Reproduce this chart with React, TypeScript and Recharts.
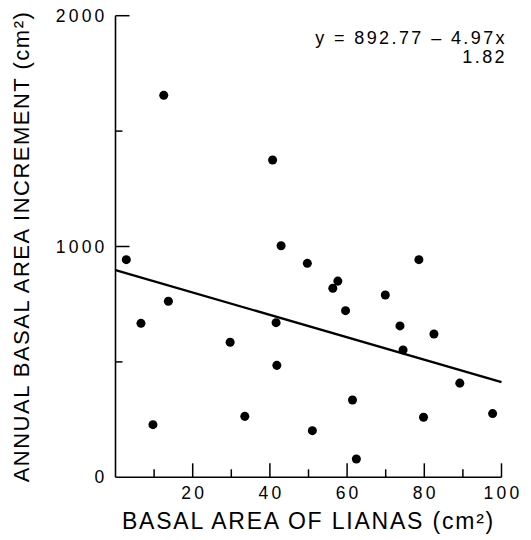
import React from 'react';
import { ScatterChart, Scatter, XAxis, YAxis, ZAxis, Label } from 'recharts';

// basal area of lianas (cm²) on each tree
const lianaArea = [
  12.5, 40.7, 42.9, 2.8, 49.7, 78.6, 57.6, 56.3, 69.9, 13.7, 59.6, 6.6, 41.6,
  73.7, 82.5, 29.7, 74.5, 41.8, 89.2, 61.4, 33.5, 79.8, 97.7, 9.7, 51.0, 62.4,
];
// annual basal area increment (cm²)
const increment = [
  1655, 1375, 1003, 943, 927, 943, 850, 819, 790, 763, 722, 667, 670,
  656, 621, 585, 552, 485, 408, 335, 264, 260, 276, 228, 202, 79,
];

// fitted line as drawn
const fitX = [0, 100];
const fitY = [898, 412];

const xTicks = [10, 20, 30, 40, 50, 60, 70, 80, 90, 100];
const yTicks = [0, 500, 1000, 1500, 2000];

const points = lianaArea.map((x, i) => ({ x, y: increment[i] }));
const fitPoints = fitX.map((x, i) => ({ x, y: fitY[i] }));

const FONT = '"Liberation Sans", Arial, sans-serif';

const YTick = (props: any) => {
  const { x, y, payload } = props;
  const major = payload.value % 1000 === 0;
  return (
    <g>
      {payload.value !== 0 && (
        <line x1={x} x2={x + (major ? 14 : 7)} y1={y} y2={y} stroke="#000" strokeWidth={1.5} />
      )}
      {major && (
        <text
          x={x - 8}
          y={y + 6}
          textAnchor="end"
          fontFamily={FONT}
          fontSize={17.5}
          letterSpacing={3.2}
          fill="#000"
        >
          {payload.value}
        </text>
      )}
    </g>
  );
};

const XTick = (props: any) => {
  const { x, y, payload } = props;
  const major = payload.value % 20 === 0;
  return (
    <g>
      <line x1={x} x2={x} y1={y} y2={y - (major ? 14 : 8)} stroke="#000" strokeWidth={1.5} />
      {major && (
        <text
          x={x + 1.5}
          y={y + 22}
          textAnchor="middle"
          fontFamily={FONT}
          fontSize={17.5}
          letterSpacing={3.2}
          fill="#000"
        >
          {payload.value}
        </text>
      )}
    </g>
  );
};

const YLabel = (props: any) => {
  const { viewBox } = props;
  const cx = viewBox.x + 21;
  const cy = viewBox.y + viewBox.height / 2;
  return (
    <text
      x={cx}
      y={cy}
      transform={`rotate(-90, ${cx}, ${cy})`}
      textAnchor="middle"
      dominantBaseline="central"
      fontFamily={FONT}
      fontSize={22}
      letterSpacing={1.5}
      fill="#000"
    >
      ANNUAL BASAL AREA INCREMENT (cm²)
    </text>
  );
};

const XLabel = (props: any) => {
  const { viewBox } = props;
  const cx = viewBox.x + viewBox.width / 2;
  return (
    <text
      x={cx}
      y={viewBox.y + 52}
      textAnchor="middle"
      fontFamily={FONT}
      fontSize={23}
      letterSpacing={1.8}
      fill="#000"
    >
      BASAL AREA OF LIANAS (cm²)
    </text>
  );
};

export default function App() {
  return (
    <div style={{ position: 'absolute', left: 0, top: 0, width: 531, height: 540, background: '#fff' }}>
      <ScatterChart
        width={531}
        height={540}
        margin={{ top: 15.7, right: 29.5, bottom: 0, left: 0 }}
      >
        <XAxis
          type="number"
          dataKey="x"
          domain={[0, 100]}
          ticks={xTicks}
          interval={0}
          tickSize={0}
          tickMargin={0}
          tickLine={false}
          tick={<XTick />}
          height={62.7}
          axisLine={{ stroke: '#000', strokeWidth: 1.6 }}
        >
          <Label content={<XLabel />} />
        </XAxis>
        <YAxis
          type="number"
          dataKey="y"
          domain={[0, 2000]}
          ticks={yTicks}
          interval={0}
          tickSize={0}
          tickMargin={0}
          tickLine={false}
          tick={<YTick />}
          width={115.5}
          axisLine={{ stroke: '#000', strokeWidth: 1.6 }}
        >
          <Label content={<YLabel />} />
        </YAxis>
        <ZAxis range={[80, 80]} />
        <Scatter
          data={fitPoints}
          line={{ stroke: '#000', strokeWidth: 2.3 }}
          shape={() => <g />}
          isAnimationActive={false}
        />
        <Scatter data={points} fill="#000" isAnimationActive={false} />
      </ScatterChart>
      <div
        style={{
          position: 'absolute',
          right: 24,
          top: 29,
          textAlign: 'right',
          fontFamily: FONT,
          fontSize: 18,
          lineHeight: '19px',
          letterSpacing: 2.4,
          color: '#000',
        }}
      >
        <div>y = 892.77 – 4.97x</div>
        <div>1.82</div>
      </div>
    </div>
  );
}
